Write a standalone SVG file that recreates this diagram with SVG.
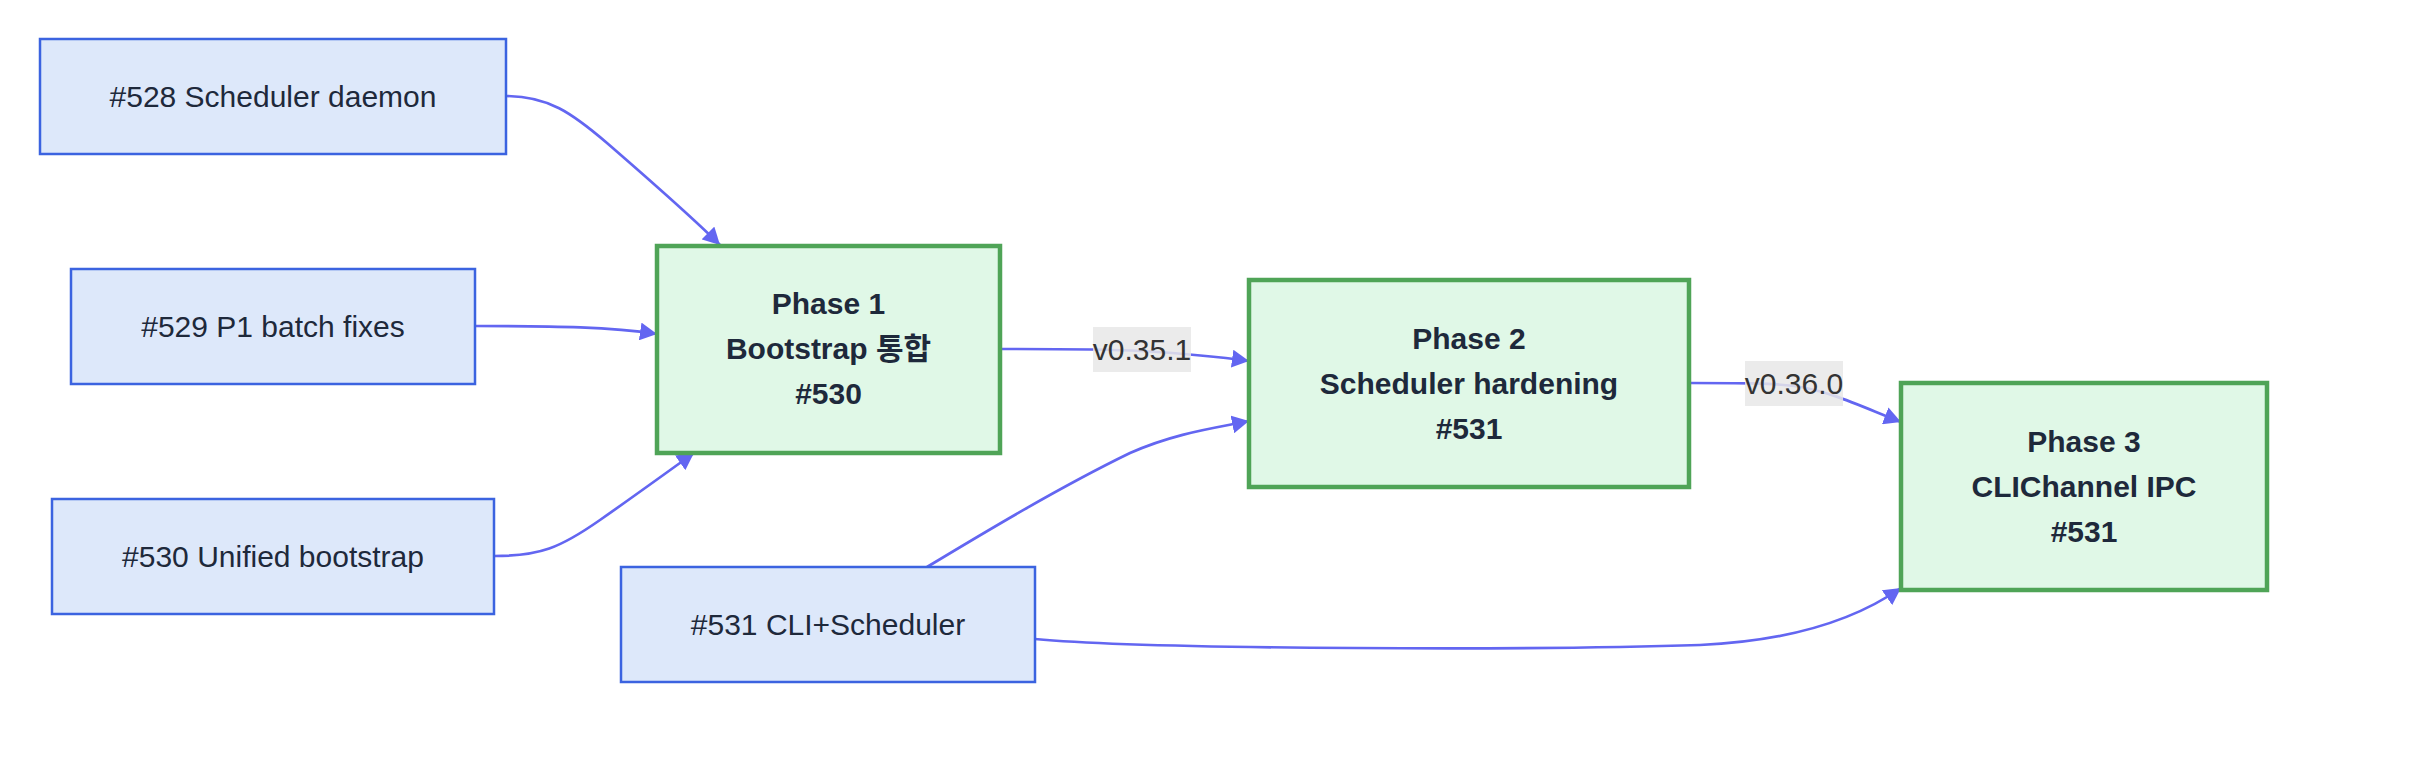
<svg xmlns="http://www.w3.org/2000/svg" width="2412" height="764" viewBox="0 0 2412 764">
<defs>
<style>
.bg{fill:#ffffff}
.src rect{fill:#dde8fa;stroke:#3b63e0;stroke-width:2.5}
.phase rect{fill:#e0f8e7;stroke:#4fa457;stroke-width:4.5}
.t{font-family:"Liberation Sans",Arial,Helvetica,"Noto Sans CJK KR",sans-serif;font-size:30px;fill:#1e293b;text-anchor:middle}
.b{font-weight:bold}
.edge{fill:none;stroke:#6366f1;stroke-width:2.7}
.lbl rect{fill:#e8e8e8;fill-opacity:0.85}
.lbl text{font-family:"Liberation Sans",Arial,Helvetica,sans-serif;font-size:30px;fill:#333333;text-anchor:middle}
</style>
<marker id="arrow" viewBox="0 0 17 18" refX="17" refY="9" markerWidth="17" markerHeight="18" markerUnits="userSpaceOnUse" orient="auto">
<path d="M0,0 L17,9 L0,18 z" fill="#6366f1"/>
</marker>
</defs>
<rect class="bg" x="0" y="0" width="2412" height="764"/>
<g id="connectors">
<path class="edge" marker-end="url(#arrow)" d="M506,96 C548,96 572,113 607,143 C652,182 693,218 720,245"/>
<path class="edge" marker-end="url(#arrow)" d="M475,326 C560,326 610,327 657,334"/>
<path class="edge" marker-end="url(#arrow)" d="M494,556 C540,556 560,548 600,520 C640,492 670,470 694,453"/>
<path class="edge" marker-end="url(#arrow)" d="M927,567 C985,532 1060,487 1130,453 C1175,433 1215,428 1249,421"/>
<path class="edge" marker-end="url(#arrow)" d="M1035,639 C1150,650 1550,650 1700,645 C1790,641 1855,620 1901,588"/>
<path class="edge" marker-end="url(#arrow)" d="M1000,349 C1060,349 1100,349 1142,351 C1190,354 1220,357 1249,361"/>
<path class="edge" marker-end="url(#arrow)" d="M1689,383 C1740,383 1770,383 1794,386 C1830,391 1860,406 1901,422"/>
<g class="lbl" id="label-v0351">
<rect x="1093" y="327" width="98" height="45"/>
<text x="1142" y="359.5">v0.35.1</text>
</g>
<g class="lbl" id="label-v0360">
<rect x="1745" y="361" width="98" height="45"/>
<text x="1794" y="393.5">v0.36.0</text>
</g>
</g>
<g id="n528" class="src">
<rect x="40" y="39" width="466" height="115"/>
<text class="t" x="273" y="107">#528 Scheduler daemon</text>
</g>
<g id="n529" class="src">
<rect x="71" y="269" width="404" height="115"/>
<text class="t" x="273" y="337">#529 P1 batch fixes</text>
</g>
<g id="n530" class="src">
<rect x="52" y="499" width="442" height="115"/>
<text class="t" x="273" y="567">#530 Unified bootstrap</text>
</g>
<g id="n531" class="src">
<rect x="621" y="567" width="414" height="115"/>
<text class="t" x="828" y="635">#531 CLI+Scheduler</text>
</g>
<g id="phase1" class="phase">
<rect x="657" y="246" width="343" height="207"/>
<text class="t b" x="828.5" y="314.3">Phase 1</text>
<text class="t b" x="828.5" y="359.3">Bootstrap 통합</text>
<text class="t b" x="828.5" y="404.3">#530</text>
</g>
<g id="phase2" class="phase">
<rect x="1249" y="280" width="440" height="207"/>
<text class="t b" x="1469" y="348.5">Phase 2</text>
<text class="t b" x="1469" y="393.5">Scheduler hardening</text>
<text class="t b" x="1469" y="438.5">#531</text>
</g>
<g id="phase3" class="phase">
<rect x="1901" y="383" width="366" height="207"/>
<text class="t b" x="2084" y="451.5">Phase 3</text>
<text class="t b" x="2084" y="496.5">CLIChannel IPC</text>
<text class="t b" x="2084" y="541.5">#531</text>
</g>
</svg>
